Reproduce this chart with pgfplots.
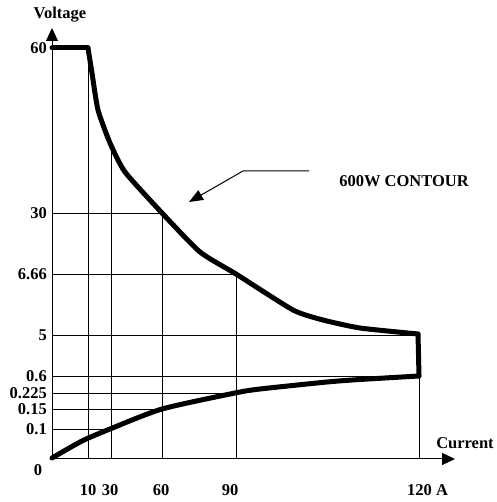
\documentclass[border=0pt]{standalone}
\usepackage{pgfplots}
\pgfplotsset{compat=1.18}
\usepackage{fontspec}
\setmainfont{Liberation Serif}
\usetikzlibrary{arrows.meta}
\newcommand\lab{\bfseries\fontsize{16.5}{19}\selectfont}
\begin{document}
\begin{tikzpicture}[x=1pt,y=1pt]
\useasboundingbox (0,0) rectangle (496,502);
\begin{axis}[
  at={(52pt,43pt)}, anchor=south west,
  scale only axis, width=403pt, height=431pt,
  xmin=0, xmax=403, ymin=0, ymax=431,
  axis lines=left,
  axis line style={line width=1pt, -{Triangle[length=13pt,width=12pt]}},
  xtick=\empty, ytick=\empty,
  clip=false,
]
% thin construction lines
\addplot[line width=0.9pt] coordinates {(36,0) (36,411)};
\addplot[line width=0.9pt] coordinates {(59,0) (59,314)};
\addplot[line width=0.9pt] coordinates {(110,0) (110,246)};
\addplot[line width=0.9pt] coordinates {(184,0) (184,185)};
\addplot[line width=0.9pt] coordinates {(367,0) (367,83)};
\addplot[line width=0.9pt] coordinates {(0,246) (110,246)};
\addplot[line width=0.9pt] coordinates {(0,185) (184,185)};
\addplot[line width=0.9pt] coordinates {(0,124) (366,124)};
\addplot[line width=0.9pt] coordinates {(0,83) (367,83)};
\addplot[line width=0.9pt] coordinates {(0,66) (183,66)};
\addplot[line width=0.9pt] coordinates {(0,50) (110,50)};
\addplot[line width=0.9pt] coordinates {(0,30) (58,30)};
% 600W contour
\addplot[line width=5pt, line cap=round] coordinates {(0,411) (36,411)};
\addplot[line width=5pt, line cap=round, smooth, tension=0.35] coordinates {
  (36,411) (40,386) (46,349) (58,316) (73,287) (110,246)
  (148,207) (184,185) (241,149) (271,139) (308,131) (366,125)
};
\addplot[line width=5pt, line cap=round] coordinates {(366,125) (367,83)};
\addplot[line width=5pt, line cap=round, smooth, tension=0.4] coordinates {
  (367,83) (308,79.5) (275,77) (208,70) (183,66) (110,50)
  (58,30) (30,18) (0,1)
};
% annotation
\draw[line width=1pt, -{Triangle[length=14pt,width=11pt]}]
  (axis cs:257,288) -- (axis cs:191,288) -- (axis cs:137,257);
\node[font=\lab] at (axis cs:352,278) {600W CONTOUR};
\node[font=\lab] at (axis cs:8,444) {Voltage};
\node[font=\lab] at (axis cs:413,16) {Current};
% x labels
\node[font=\lab, inner sep=0] at (axis cs:36,-31) {10};
\node[font=\lab, inner sep=0] at (axis cs:58,-31) {30};
\node[font=\lab, inner sep=0] at (axis cs:109,-31) {60};
\node[font=\lab, inner sep=0] at (axis cs:178,-31) {90};
\node[font=\lab, inner sep=0, anchor=west] at (axis cs:355,-31) {120 A};
% y labels
\node[font=\lab, inner sep=0, anchor=east] at (axis cs:-5,411) {60};
\node[font=\lab, inner sep=0, anchor=east] at (axis cs:-5,246) {30};
\node[font=\lab, inner sep=0, anchor=east] at (axis cs:-5,185) {6.66};
\node[font=\lab, inner sep=0, anchor=east] at (axis cs:-5,124) {5};
\node[font=\lab, inner sep=0, anchor=east] at (axis cs:-5,83) {0.6};
\node[font=\lab, inner sep=0, anchor=east] at (axis cs:-5,66) {0.225};
\node[font=\lab, inner sep=0, anchor=east] at (axis cs:-5,50) {0.15};
\node[font=\lab, inner sep=0, anchor=east] at (axis cs:-5,30) {0.1};
\node[font=\lab, inner sep=0] at (axis cs:-14,-11) {0};
\end{axis}
\end{tikzpicture}
\end{document}
